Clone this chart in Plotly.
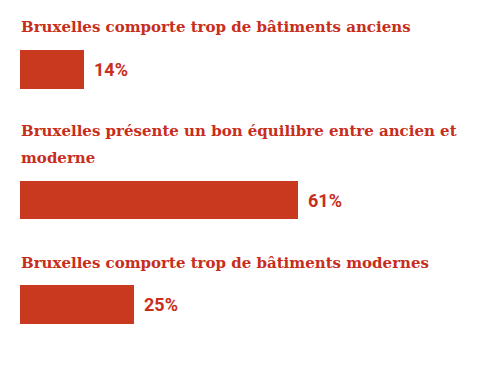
import plotly.graph_objects as go

titles = [
    "Bruxelles comporte trop de bâtiments anciens",
    "Bruxelles présente un bon équilibre entre ancien et<br>moderne",
    "Bruxelles comporte trop de bâtiments modernes",
]
values = [14, 61, 25]
labels = ["14%", "61%", "25%"]

RED = "#C8391F"
TXT = "#C72E1C"
OFF = 8          # default page body margin
W, H = 500 - OFF, 371 - OFF
# bar pixel bands (top, bottom) and title line centres in window pixels
bands = [(50, 89), (181, 219), (285, 324)]
title_lines_y = [[27], [131, 158], [263]]

fig = go.Figure()
annotations = []
for i, (t, v, lab) in enumerate(zip(titles, values, labels)):
    ya = "y" if i == 0 else f"y{i+1}"
    fig.add_trace(go.Bar(
        x=[v], y=[i], orientation="h", yaxis=ya, xaxis="x",
        marker=dict(color=RED, line=dict(width=0)),
        width=1, hoverinfo="skip", showlegend=False,
    ))
    top, bot = bands[i]
    key = "yaxis" if i == 0 else f"yaxis{i+1}"
    fig.update_layout(**{key: dict(domain=[1 - (bot - OFF) / H, 1 - (top - OFF) / H],
                                   visible=False, range=[i - 0.5, i + 0.5], fixedrange=True)})
    annotations.append(dict(x=v, y=i, xref="x", yref=ya, text=lab, showarrow=False,
                            xanchor="left", xshift=8,
                            font=dict(family="Roboto", size=18, color=TXT, weight="bold")))
    for line, ly in zip(t.split("<br>"), title_lines_y[i]):
        annotations.append(dict(x=0, y=1 - (ly - OFF) / H, xref="paper", yref="paper", text=line,
                                showarrow=False, xanchor="left", yanchor="middle", align="left",
                                xshift=-1,
                                font=dict(family="DejaVu Serif", size=15, color=TXT, weight="bold")))

fig.update_layout(
    width=W, height=H,
    margin=dict(l=20 - OFF, r=24, t=0, b=0),
    paper_bgcolor="white", plot_bgcolor="white",
    xaxis=dict(range=[0, 100], visible=False, fixedrange=True),
    bargap=0,
    annotations=annotations,
)
fig.write_html("out.html")
